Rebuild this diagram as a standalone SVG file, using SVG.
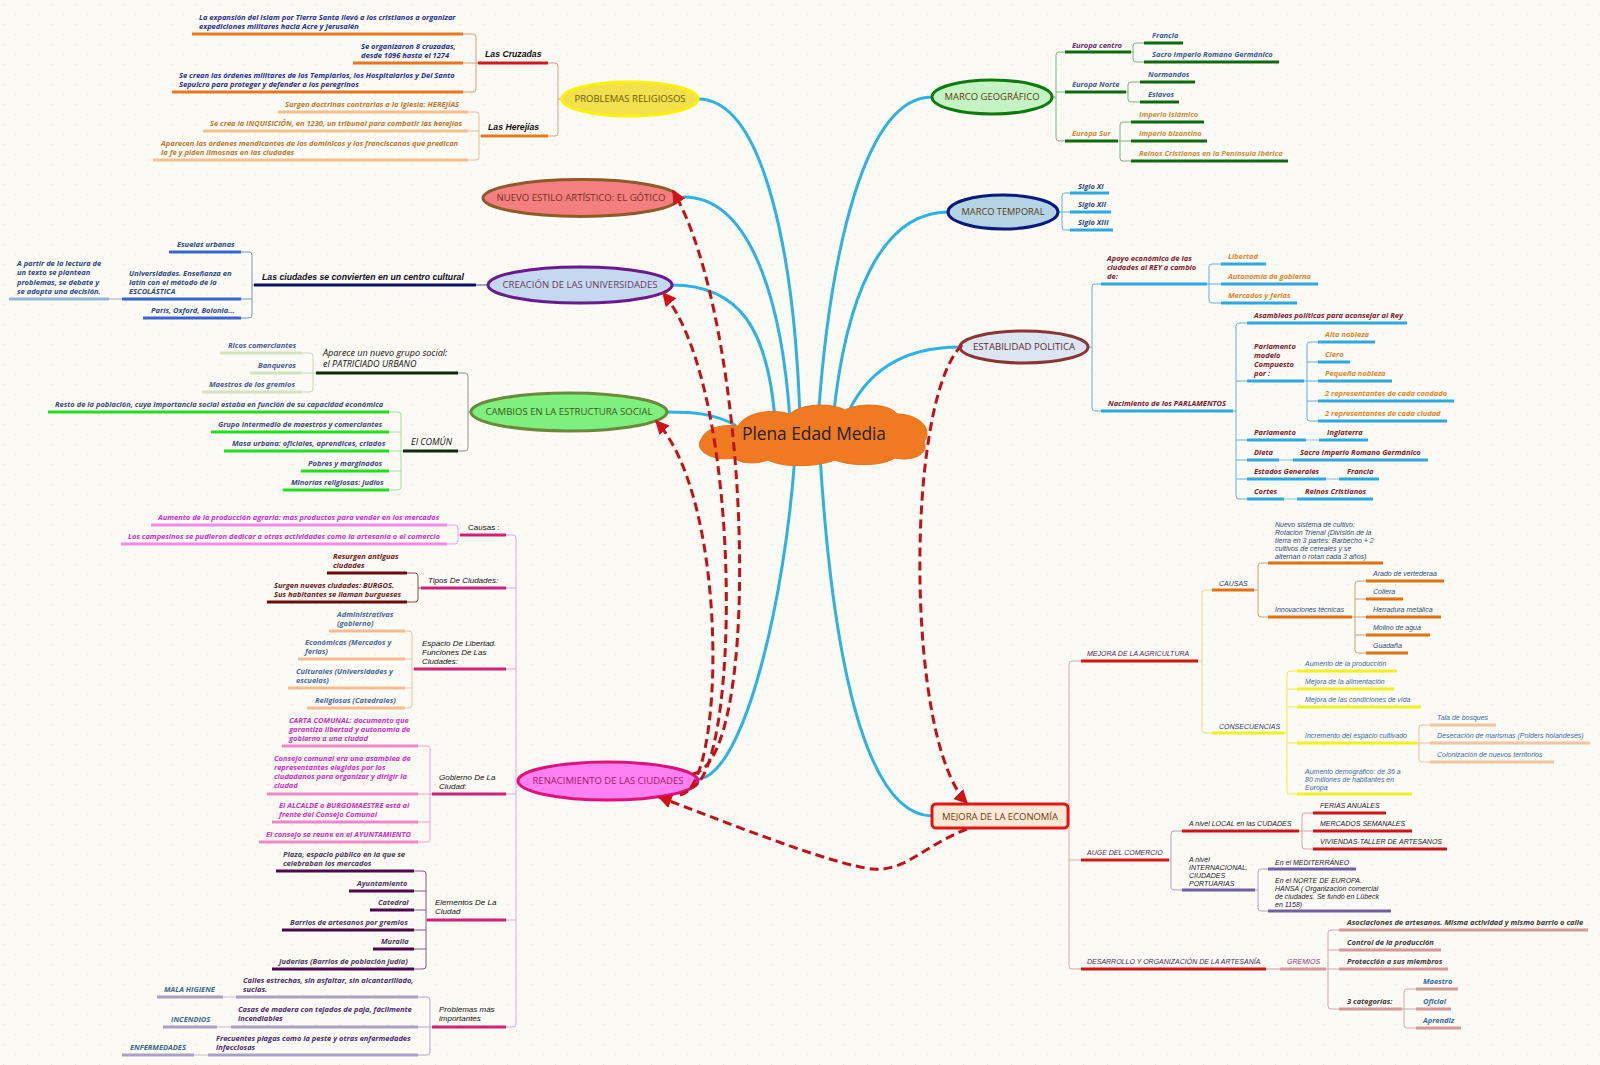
<svg xmlns="http://www.w3.org/2000/svg" width="1600" height="1065" viewBox="0 0 1600 1065">
<defs>
<pattern id="dots" width="24" height="20" patternUnits="userSpaceOnUse">
<rect width="24" height="20" fill="#fbfaf5"/>
<rect x="3" y="4" width="1.2" height="1.2" fill="#e9e5d8"/>
<rect x="15" y="14" width="1.2" height="1.2" fill="#eeeadf"/>
</pattern>
<marker id="ah" viewBox="0 0 10 10" refX="9" refY="5" markerWidth="14" markerHeight="14" markerUnits="userSpaceOnUse" orient="auto">
<path d="M0,0 L10,5 L0,10 z" fill="#d2121a"/>
</marker>
<style>
.blue{fill:none;stroke:#2fb1e1;stroke-width:3;stroke-linecap:round}
.dash{fill:none;stroke:#c0121a;stroke-width:3;stroke-dasharray:9 5}
.br{fill:none;stroke-width:1}
.u{fill:none;stroke-width:3}
.t{font-family:'Open Sans','Noto Sans',sans-serif;font-style:italic;font-weight:700;font-size:7.5px}
.a{font-family:'Liberation Sans',Arial,sans-serif;font-style:italic;font-size:7px}
.h{font-family:'Liberation Sans',Arial,sans-serif;font-style:italic;font-weight:700;font-size:8.7px;fill:#111}
.c{font-family:'Liberation Sans',Arial,sans-serif;font-style:italic;font-size:8px;fill:#111}
.o{font-family:'Open Sans','Noto Sans',sans-serif;font-style:italic;font-size:9px;fill:#111}
.n{font-family:'Open Sans','Noto Sans',sans-serif;font-size:9px;text-anchor:middle}
.c1{fill:#25318e}.c2{fill:#b97a32}.c3{fill:#2b4b82}.c4{fill:#4b5b92}.c5{fill:#3b4b80}
.c6{fill:#c534c5}.c7{fill:#6b1b1b}.c8{fill:#4b6b9b}.c9{fill:#4b3b5b}.c10{fill:#4b2b6b}.c11{fill:#3b6b8b}
.r1{fill:#6b2b6b}.r2{fill:#3b5b9b}.r3{fill:#d48a3a}.r4{fill:#2b4b7b}.r5{fill:#7b1b2b}.r6{fill:#e0862a}
.r7{fill:#4b2b5b}.r8{fill:#2b3b6b}.r9{fill:#3b6ba3}.r10{fill:#1b1b2b}.r11{fill:#8b3b7b}.r12{fill:#3b3b3b}
</style>
</defs>
<rect width="1600" height="1065" fill="url(#dots)"/>

<g id="connectors">
<path class="blue" d="M698 99 C765 99 795 260 800 420"/>
<path class="blue" d="M684 197 C750 197 782 300 790 420"/>
<path class="blue" d="M672 285 C740 285 768 330 775 420"/>
<path class="blue" d="M667 412 C695 412 715 414 735 425"/>
<path class="blue" d="M700 779 C745 770 785 600 795 455"/>
<path class="blue" d="M932 97 C865 97 830 250 818 420"/>
<path class="blue" d="M948 212 C880 212 845 300 833 420"/>
<path class="blue" d="M960 347 C905 347 865 370 845 420"/>
<path class="blue" d="M932 816 C875 815 835 700 820 455"/>

<path class="br" stroke="#d8a070" d="M463,34 H473 Q476,34 476,37 V89 Q476,92 473,92 H463 M463,63 H478"/>
<path class="br" stroke="#e8c090" d="M468,112 H476 Q479,112 479,115 V157 Q479,160 476,160 H468 M468,131 H479 M479,136 H481"/>
<path class="br" stroke="#d0a080" d="M548,63 H555 Q558,63 558,66 V133 Q558,136 555,136 H548 M558,99 H562"/>
<path class="br" stroke="#505080" d="M476,285 H488"/>
<path class="br" stroke="#8090c0" d="M241,252 H249 Q252,252 252,255 V315 Q252,318 249,318 H241 M241,299 H252 M252,285 H254"/>
<path class="br" stroke="#a0a8b8" d="M109,299 H122"/>
<path class="br" stroke="#909090" d="M458,373 H465 Q468,373 468,376 V448 Q468,451 465,451 H458 M468,412 H471"/>
<path class="br" stroke="#c8d8b8" d="M302,353 H310 Q313,353 313,356 V389 Q313,392 310,392 H302 M302,373 H316"/>
<path class="br" stroke="#a0e0a0" d="M389,412 H398 Q401,412 401,415 V487 Q401,490 398,490 H389 M389,432 H401 M389,451 H403 M389,471 H401"/>
<path class="br" stroke="#f0a0d8" d="M506,535 H513 Q516,535 516,538 V1024 Q516,1027 513,1027 H506 M506,588 H516 M506,669 H516 M506,794 H516 M506,920 H516 M516,781 H518"/>
<path class="br" stroke="#f0a0e8" d="M447,525 H455 Q458,525 458,528 V541 Q458,544 455,544 H447 M458,535 H460"/>
<path class="br" stroke="#8a4a4a" d="M407,573 H415 Q418,573 418,576 V599 Q418,602 415,602 H407 M418,588 H421"/>
<path class="br" stroke="#f0c0a0" d="M405,631 H409 Q412,631 412,634 V705 Q412,708 409,708 H405 M405,659 H412 M405,688 H412 M412,669 H414"/>
<path class="br" stroke="#f0a0d0" d="M418,746 H427 Q430,746 430,749 V839 Q430,842 427,842 H418 M418,794 H432 M418,822 H430"/>
<path class="br" stroke="#806080" d="M414,871 H423 Q426,871 426,874 V966 Q426,969 423,969 H414 M414,891 H426 M414,910 H426 M414,930 H426 M414,949 H426 M426,920 H427"/>
<path class="br" stroke="#b0a8c8" d="M418,997 H427 Q430,997 430,1000 V1052 Q430,1055 427,1055 H418 M418,1027 H432"/>
<path class="br" stroke="#c0c0c8" d="M223,997 H236 M217,1027 H231 M194,1055 H208"/>

<path class="br" stroke="#80b080" d="M1065,52 H1059 Q1056,52 1056,55 V138 Q1056,141 1059,141 H1065 M1056,92 H1065 M1052,97 H1056"/>
<path class="br" stroke="#80b080" d="M1144,43 H1136 Q1133,43 1133,46 V59 Q1133,62 1136,62 H1144 M1131,52 H1133"/>
<path class="br" stroke="#80b080" d="M1140,82 H1131 Q1128,82 1128,85 V99 Q1128,102 1131,102 H1140 M1126,92 H1128"/>
<path class="br" stroke="#80b080" d="M1131,122 H1123 Q1120,122 1120,125 V158 Q1120,161 1123,161 H1131 M1118,141 H1131"/>
<path class="br" stroke="#60b0e0" d="M1070,193 H1065 Q1062,193 1062,196 V227 Q1062,230 1065,230 H1070 M1057,212 H1070"/>
<path class="br" stroke="#60b0e0" d="M1101,284 H1095 Q1092,284 1092,287 V408 Q1092,411 1095,411 H1101 M1088,347 H1092"/>
<path class="br" stroke="#60b0e0" d="M1221,264 H1212 Q1209,264 1209,267 V300 Q1209,303 1212,303 H1221 M1207,284 H1221"/>
<path class="br" stroke="#60b0e0" d="M1247,323 H1239 Q1236,323 1236,326 V496 Q1236,499 1239,499 H1247 M1247,381 H1236 M1236,440 H1247 M1236,460 H1247 M1236,479 H1247 M1233,411 H1236"/>
<path class="br" stroke="#60b0e0" d="M1318,342 H1310 Q1307,342 1307,345 V418 Q1307,421 1310,421 H1318 M1304,381 H1318 M1307,362 H1318 M1307,401 H1318"/>
<path class="br" stroke="#80c0e0" d="M1306,440 H1319 M1279,460 H1293 M1326,479 H1339 M1284,499 H1297"/>
<path class="br" stroke="#e0a8a8" d="M1081,661 H1072 Q1069,661 1069,664 V966 Q1069,969 1072,969 H1081 M1069,860 H1081 M1068,816 H1069"/>
<path class="br" stroke="#e8d880" d="M1212,590 H1205 Q1202,590 1202,593 V730 Q1202,733 1205,733 H1212 M1198,661 H1202"/>
<path class="br" stroke="#d0a070" d="M1268,563 H1261 Q1258,563 1258,566 V614 Q1258,617 1261,617 H1268 M1254,590 H1258"/>
<path class="br" stroke="#d0a070" d="M1366,581 H1358 Q1355,581 1355,584 V650 Q1355,653 1358,653 H1366 M1355,599 H1366 M1352,617 H1366 M1355,635 H1366"/>
<path class="br" stroke="#eaea50" d="M1297,671 H1290 Q1287,671 1287,674 V791 Q1287,794 1290,794 H1297 M1287,689 H1297 M1287,707 H1297 M1287,743 H1297 M1284,733 H1287"/>
<path class="br" stroke="#e8c0a0" d="M1430,725 H1422 Q1419,725 1419,728 V759 Q1419,762 1422,762 H1430 M1417,743 H1430"/>
<path class="br" stroke="#b0a0c0" d="M1182,831 H1174 Q1171,831 1171,834 V887 Q1171,890 1174,890 H1182 M1169,860 H1171"/>
<path class="br" stroke="#e0a0a0" d="M1313,813 H1305 Q1302,813 1302,816 V846 Q1302,849 1305,849 H1313 M1299,831 H1313"/>
<path class="br" stroke="#b0a0c8" d="M1268,869 H1261 Q1258,869 1258,872 V908 Q1258,911 1261,911 H1268 M1255,890 H1258"/>
<path class="br" stroke="#c0a0a0" d="M1266,969 H1280"/>
<path class="br" stroke="#d0a8a8" d="M1339,930 H1331 Q1328,930 1328,933 V1006 Q1328,1009 1331,1009 H1339 M1328,950 H1339 M1326,969 H1339"/>
<path class="br" stroke="#d0a8a8" d="M1416,989 H1407 Q1404,989 1404,992 V1025 Q1404,1028 1407,1028 H1416 M1402,1009 H1416"/>
</g>

<!-- LEFT: Problemas religiosos -->
<g id="cruz-1"><path class="u" stroke="#e8781e" d="M192 34 H463"/><text class="t c1"><tspan x="199" y="20">La expansión del Islam por Tierra Santa llevó a los cristianos a organizar</tspan><tspan x="199" y="29">expediciones militares hacia Acre y Jerusalén</tspan></text></g>
<g id="cruz-2"><path class="u" stroke="#e8781e" d="M353 63 H463"/><text class="t c1"><tspan x="361" y="49">Se organizaron 8 cruzadas,</tspan><tspan x="361" y="58">desde 1096 hasta el 1274</tspan></text></g>
<g id="cruz-3"><path class="u" stroke="#e8781e" d="M172 92 H463"/><text class="t c1"><tspan x="179" y="78">Se crean las órdenes militares de los Templarios, los Hospitalarios y Del Santo</tspan><tspan x="179" y="87">Sepulcro para proteger y defender a los peregrinos</tspan></text></g>
<g id="cruzadas"><path class="u" stroke="#d01a1a" d="M478 63 H548"/><text class="h" x="485" y="57">Las Cruzadas</text></g>
<g id="her-1"><path class="u" stroke="#f2c08e" d="M278 112 H468"/><text class="t c2" x="285" y="107">Surgen doctrinas contrarias a la Iglesia: HEREJÍAS</text></g>
<g id="her-2"><path class="u" stroke="#f2c08e" d="M203 131 H468"/><text class="t c2" x="210" y="126">Se crea la INQUISICIÓN, en 1230, un tribunal para combatir las herejías</text></g>
<g id="her-3"><path class="u" stroke="#f2c08e" d="M153 160 H468"/><text class="t c2"><tspan x="161" y="146">Aparecen las órdenes mendicantes de los dominicos y los franciscanos que predican</tspan><tspan x="161" y="155">la fe y piden limosnas en las ciudades</tspan></text></g>
<g id="herejias"><path class="u" stroke="#e87a1e" d="M481 136 H548"/><text class="h" x="488" y="130">Las Herejías</text></g>
<g id="problemas"><ellipse cx="630" cy="99" rx="68" ry="17" fill="#f2e04c" stroke="#fff200" stroke-width="3"/><text class="n" x="630" y="102" fill="#6b5a0b" textLength="111" lengthAdjust="spacingAndGlyphs">PROBLEMAS RELIGIOSOS</text></g>

<g id="gotico"><ellipse cx="581" cy="198" rx="98" ry="18.5" fill="#f47f7f" stroke="#8e5a2a" stroke-width="3"/><text class="n" x="581" y="201" fill="#7a2e1e" textLength="169" lengthAdjust="spacingAndGlyphs">NUEVO ESTILO ARTÍSTICO: EL GÓTICO</text></g>

<!-- Universidades -->
<g id="univ-1"><path class="u" stroke="#3a64d0" d="M169 252 H241"/><text class="t c3" x="177" y="247">Esuelas urbanas</text></g>
<g id="univ-2"><path class="u" stroke="#3a64d0" d="M122 299 H241"/><text class="t c3"><tspan x="129" y="276">Universidades. Enseñanza en</tspan><tspan x="129" y="285">latín con el método de la</tspan><tspan x="129" y="294">ESCOLÁSTICA</tspan></text></g>
<g id="univ-3"><path class="u" stroke="#3a64d0" d="M143 318 H241"/><text class="t c3" x="151" y="313">París, Oxford, Bolonia...</text></g>
<g id="univ-2a"><path class="u" stroke="#98b4d4" d="M9 299 H109"/><text class="t c3"><tspan x="17" y="266">A partir de la lectura de</tspan><tspan x="17" y="275">un texto se plantean</tspan><tspan x="17" y="285">problemas, se debate y</tspan><tspan x="17" y="294">se adopta una decisión.</tspan></text></g>
<g id="centro-cultural"><path class="u" stroke="#0e1060" d="M254 285 H476"/><text class="h" x="262" y="280">Las ciudades se convierten en un centro cultural</text></g>
<g id="universidades"><ellipse cx="580" cy="285" rx="92" ry="18" fill="#c6d8f0" stroke="#6a1a8a" stroke-width="3"/><text class="n" x="580" y="288" fill="#6b3b5b" textLength="155" lengthAdjust="spacingAndGlyphs">CREACIÓN DE LAS UNIVERSIDADES</text></g>

<!-- Cambios estructura social -->
<g id="pat-1"><path class="u" stroke="#d4e2c0" d="M220 353 H302"/><text class="t c4" x="228" y="348">Ricos comerciantes</text></g>
<g id="pat-2"><path class="u" stroke="#d4e2c0" d="M250 373 H302"/><text class="t c4" x="258" y="368">Banqueros</text></g>
<g id="pat-3"><path class="u" stroke="#d4e2c0" d="M202 392 H302"/><text class="t c4" x="209" y="387">Maestros de los gremios</text></g>
<g id="patriciado"><path class="u" stroke="#0a2a0a" d="M316 373 H458"/><text class="o"><tspan x="323" y="356">Aparece un nuevo grupo social:</tspan><tspan x="323" y="367">el PATRICIADO URBANO</tspan></text></g>
<g id="com-1"><path class="u" stroke="#1ee01e" d="M48 412 H389"/><text class="t c5" x="55" y="407">Resto de la población, cuya importancia social estaba en función de su capacidad económica</text></g>
<g id="com-2"><path class="u" stroke="#1ee01e" d="M211 432 H389"/><text class="t c5" x="218" y="427">Grupo intermedio de maestros y comerciantes</text></g>
<g id="com-3"><path class="u" stroke="#1ee01e" d="M224 451 H389"/><text class="t c5" x="232" y="446">Masa urbana: oficiales, aprendices, criados</text></g>
<g id="com-4"><path class="u" stroke="#1ee01e" d="M301 471 H389"/><text class="t c5" x="308" y="466">Pobres y marginados</text></g>
<g id="com-5"><path class="u" stroke="#1ee01e" d="M283 490 H389"/><text class="t c5" x="291" y="485">Minorías religiosas: judíos</text></g>
<g id="comun"><path class="u" stroke="#0a2a0a" d="M403 451 H458"/><text class="o" x="411" y="445">El COMÚN</text></g>
<g id="cambios"><ellipse cx="569" cy="412" rx="98" ry="19" fill="#7ff07f" stroke="#6a8a3a" stroke-width="3"/><text class="n" x="569" y="415" fill="#3b5b1b" textLength="167" lengthAdjust="spacingAndGlyphs">CAMBIOS EN LA ESTRUCTURA SOCIAL</text></g>

<!-- Renacimiento de las ciudades -->
<g id="causa-1"><path class="u" stroke="#f08ce8" d="M151 525 H447"/><text class="t c6" x="158" y="520">Aumento de la producción agraria: más productos para vender en los mercados</text></g>
<g id="causa-2"><path class="u" stroke="#f08ce8" d="M121 544 H447"/><text class="t c6" x="128" y="539">Los campesinos se pudieron dedicar a otras actividades como la artesanía o el comercio</text></g>
<g id="causas"><path class="u" stroke="#d0207a" d="M460 535 H506"/><text class="c" x="468" y="530" style="font-style:normal">Causas :</text></g>
<g id="tipo-1"><path class="u" stroke="#6a0a0a" d="M327 573 H407"/><text class="t c7"><tspan x="333" y="559">Resurgen antiguas</tspan><tspan x="333" y="568">ciudades</tspan></text></g>
<g id="tipo-2"><path class="u" stroke="#6a0a0a" d="M267 602 H407"/><text class="t c7"><tspan x="274" y="588">Surgen nuevas ciudades: BURGOS.</tspan><tspan x="274" y="597">Sus habitantes se llaman burgueses</tspan></text></g>
<g id="tipos"><path class="u" stroke="#d0207a" d="M421 588 H506"/><text class="c" x="428" y="583">Tipos De Ciudades:</text></g>
<g id="esp-1"><path class="u" stroke="#f4bc94" d="M329 631 H405"/><text class="t c8"><tspan x="337" y="617">Administrativas</tspan><tspan x="337" y="626">(gobierno)</tspan></text></g>
<g id="esp-2"><path class="u" stroke="#f4bc94" d="M298 659 H405"/><text class="t c8"><tspan x="305" y="645">Económicas (Mercados y</tspan><tspan x="305" y="654">ferias)</tspan></text></g>
<g id="esp-3"><path class="u" stroke="#f4bc94" d="M288 688 H405"/><text class="t c8"><tspan x="296" y="674">Culturales (Universidades y</tspan><tspan x="296" y="683">escuelas)</tspan></text></g>
<g id="esp-4"><path class="u" stroke="#f4bc94" d="M307 708 H405"/><text class="t c8" x="315" y="703">Religiosas (Catedrales)</text></g>
<g id="espacio"><path class="u" stroke="#d0207a" d="M414 669 H506"/><text class="c"><tspan x="422" y="646">Espacio De Libertad.</tspan><tspan x="422" y="655">Funciones De Las</tspan><tspan x="422" y="664">Ciudades:</tspan></text></g>
<g id="gob-1"><path class="u" stroke="#f088c8" d="M282 746 H418"/><text class="t c6"><tspan x="289" y="723">CARTA COMUNAL: documento que</tspan><tspan x="289" y="732">garantiza libertad y autonomía de</tspan><tspan x="289" y="741">gobierno a una ciudad</tspan></text></g>
<g id="gob-2"><path class="u" stroke="#f088c8" d="M267 794 H418"/><text class="t c6"><tspan x="274" y="761">Consejo comunal era una asamblea de</tspan><tspan x="274" y="770">representantes elegidos por los</tspan><tspan x="274" y="779">ciudadanos para organizar y dirigir la</tspan><tspan x="274" y="788">ciudad</tspan></text></g>
<g id="gob-3"><path class="u" stroke="#f088c8" d="M272 822 H418"/><text class="t c6"><tspan x="279" y="808">El ALCALDE o BURGOMAESTRE está al</tspan><tspan x="279" y="817">frente del Consejo Comunal</tspan></text></g>
<g id="gob-4"><path class="u" stroke="#f088c8" d="M259 842 H418"/><text class="t c6" x="266" y="837">El consejo se reune en el AYUNTAMIENTO</text></g>
<g id="gobierno"><path class="u" stroke="#d0207a" d="M432 794 H506"/><text class="c"><tspan x="439" y="780">Gobierno De La</tspan><tspan x="439" y="789">Ciudad:</tspan></text></g>
<g id="ele-1"><path class="u" stroke="#4a0a4a" d="M276 871 H414"/><text class="t c9"><tspan x="283" y="857">Plaza, espacio público en la que se</tspan><tspan x="283" y="866">celebraban los mercados</tspan></text></g>
<g id="ele-2"><path class="u" stroke="#4a0a4a" d="M349 891 H414"/><text class="t c9" x="357" y="886">Ayuntamiento</text></g>
<g id="ele-3"><path class="u" stroke="#4a0a4a" d="M370 910 H414"/><text class="t c9" x="378" y="905">Catedral</text></g>
<g id="ele-4"><path class="u" stroke="#4a0a4a" d="M282 930 H414"/><text class="t c9" x="290" y="925">Barrios de artesanos por gremios</text></g>
<g id="ele-5"><path class="u" stroke="#4a0a4a" d="M373 949 H414"/><text class="t c9" x="381" y="944">Muralla</text></g>
<g id="ele-6"><path class="u" stroke="#4a0a4a" d="M272 969 H414"/><text class="t c9" x="279" y="964">Juderías (Barrios de población judía)</text></g>
<g id="elementos"><path class="u" stroke="#d0207a" d="M427 920 H506"/><text class="c"><tspan x="435" y="905">Elementos De La</tspan><tspan x="435" y="914">Ciudad</tspan></text></g>
<g id="prob-1"><path class="u" stroke="#aaa2c4" d="M236 997 H418"/><text class="t c10"><tspan x="243" y="983">Calles estrechas, sin asfaltar, sin alcantarillado,</tspan><tspan x="243" y="992">sucias.</tspan></text></g>
<g id="prob-1a"><path class="u" stroke="#aaa2c4" d="M157 997 H223"/><text class="t c11" x="164" y="992">MALA HIGIENE</text></g>
<g id="prob-2"><path class="u" stroke="#aaa2c4" d="M231 1027 H418"/><text class="t c10"><tspan x="238" y="1012">Casas de madera con tejados de paja, fácilmente</tspan><tspan x="238" y="1021">incendiables</tspan></text></g>
<g id="prob-2a"><path class="u" stroke="#aaa2c4" d="M163 1027 H217"/><text class="t c11" x="171" y="1022">INCENDIOS</text></g>
<g id="prob-3"><path class="u" stroke="#aaa2c4" d="M208 1055 H418"/><text class="t c10"><tspan x="216" y="1041">Frecuentes plagas como la peste y otras enfermedades</tspan><tspan x="216" y="1050">infecciosas</tspan></text></g>
<g id="prob-3a"><path class="u" stroke="#aaa2c4" d="M122 1055 H194"/><text class="t c11" x="130" y="1050">ENFERMEDADES</text></g>
<g id="problemas-ciudad"><path class="u" stroke="#d0207a" d="M432 1027 H506"/><text class="c"><tspan x="439" y="1012">Problemas más</tspan><tspan x="439" y="1021">importantes</tspan></text></g>
<g id="renacimiento"><ellipse cx="608" cy="781" rx="90" ry="19" fill="#ff80f0" stroke="#e0107a" stroke-width="3"/><text class="n" x="608" y="784" fill="#a01a6a" textLength="151" lengthAdjust="spacingAndGlyphs">RENACIMIENTO DE LAS CIUDADES</text></g>

<!-- RIGHT: Marco geografico -->
<g id="geo-centro"><path class="u" stroke="#0e6a0e" d="M1065 52 H1131"/><text class="t r1" x="1072" y="48">Europa  centro</text></g>
<g id="geo-francia"><path class="u" stroke="#0e6a0e" d="M1144 43 H1183"/><text class="t r2" x="1152" y="38">Francia</text></g>
<g id="geo-sacro"><path class="u" stroke="#0e6a0e" d="M1144 62 H1279"/><text class="t r2" x="1152" y="57">Sacro Imperio Romano Germánico</text></g>
<g id="geo-norte"><path class="u" stroke="#0e6a0e" d="M1065 92 H1126"/><text class="t r2" x="1072" y="87">Europa Norte</text></g>
<g id="geo-normandos"><path class="u" stroke="#0e6a0e" d="M1140 82 H1195"/><text class="t r2" x="1148" y="77">Normandos</text></g>
<g id="geo-eslavos"><path class="u" stroke="#0e6a0e" d="M1140 102 H1179"/><text class="t r2" x="1148" y="97">Eslavos</text></g>
<g id="geo-sur"><path class="u" stroke="#0e6a0e" d="M1065 141 H1118"/><text class="t r3" x="1072" y="136">Europa Sur</text></g>
<g id="geo-islamico"><path class="u" stroke="#0e6a0e" d="M1131 122 H1204"/><text class="t r3" x="1139" y="117">Imperio Islámico</text></g>
<g id="geo-bizantino"><path class="u" stroke="#0e6a0e" d="M1131 141 H1207"/><text class="t r3" x="1139" y="136">imperio bizantino</text></g>
<g id="geo-reinos"><path class="u" stroke="#0e6a0e" d="M1131 161 H1288"/><text class="t r3" x="1139" y="156">Reinos Cristianos en la Península Ibérica</text></g>
<g id="marco-geografico"><ellipse cx="992" cy="97" rx="60" ry="17" fill="#c4f4c4" stroke="#0e7a0e" stroke-width="3"/><text class="n" x="992" y="100" fill="#5b3b0b" textLength="95" lengthAdjust="spacingAndGlyphs">MARCO GEOGRÁFICO</text></g>

<g id="siglo-11"><path class="u" stroke="#2ea8e0" d="M1070 193 H1109"/><text class="t r4" x="1078" y="189">Siglo XI</text></g>
<g id="siglo-12"><path class="u" stroke="#2ea8e0" d="M1070 212 H1111"/><text class="t r4" x="1078" y="207">Siglo XII</text></g>
<g id="siglo-13"><path class="u" stroke="#2ea8e0" d="M1070 230 H1113"/><text class="t r4" x="1078" y="225">Siglo XIII</text></g>
<g id="marco-temporal"><ellipse cx="1003" cy="212" rx="55" ry="17" fill="#b4d4e4" stroke="#0a1a7a" stroke-width="3"/><text class="n" x="1003" y="215" fill="#5b3b0b" textLength="83" lengthAdjust="spacingAndGlyphs">MARCO TEMPORAL</text></g>

<!-- Estabilidad politica -->
<g id="apoyo"><path class="u" stroke="#2ea8e0" d="M1101 284 H1207"/><text class="t r5"><tspan x="1107" y="261">Apoyo económico de las</tspan><tspan x="1107" y="270">ciudades al REY  a cambio</tspan><tspan x="1107" y="279">de:</tspan></text></g>
<g id="libertad"><path class="u" stroke="#2ea8e0" d="M1221 264 H1266"/><text class="t r6" x="1228" y="259">Libertad</text></g>
<g id="autonomia"><path class="u" stroke="#2ea8e0" d="M1221 284 H1318"/><text class="t r6" x="1228" y="279">Autonomía de gobierno</text></g>
<g id="mercados"><path class="u" stroke="#2ea8e0" d="M1221 303 H1297"/><text class="t r6" x="1228" y="298">Mercados y ferias</text></g>
<g id="nacimiento"><path class="u" stroke="#2ea8e0" d="M1101 411 H1233"/><text class="t r5" x="1108" y="406">Nacimiento de los PARLAMENTOS</text></g>
<g id="asambleas"><path class="u" stroke="#2ea8e0" d="M1247 323 H1407"/><text class="t r5" x="1254" y="318">Asambleas políticas para aconsejar al Rey</text></g>
<g id="parl-modelo"><path class="u" stroke="#2ea8e0" d="M1247 381 H1304"/><text class="t r5"><tspan x="1254" y="349">Parlamento</tspan><tspan x="1254" y="358">modelo</tspan><tspan x="1254" y="367">Compuesto</tspan><tspan x="1254" y="376">por :</tspan></text></g>
<g id="alta"><path class="u" stroke="#2ea8e0" d="M1318 342 H1375"/><text class="t r6" x="1325" y="337">Alta nobleza</text></g>
<g id="clero"><path class="u" stroke="#2ea8e0" d="M1318 362 H1350"/><text class="t r6" x="1325" y="357">Clero</text></g>
<g id="pequena"><path class="u" stroke="#2ea8e0" d="M1318 381 H1392"/><text class="t r6" x="1325" y="376">Pequeña nobleza</text></g>
<g id="condado"><path class="u" stroke="#2ea8e0" d="M1318 401 H1454"/><text class="t r6" x="1325" y="396">2 representantes de cada condado</text></g>
<g id="ciudad"><path class="u" stroke="#2ea8e0" d="M1318 421 H1447"/><text class="t r6" x="1325" y="416">2 representantes de cada ciudad</text></g>
<g id="parlamento"><path class="u" stroke="#2ea8e0" d="M1247 440 H1306"/><text class="t r5" x="1254" y="435">Parlamento</text></g>
<g id="inglaterra"><path class="u" stroke="#2ea8e0" d="M1319 440 H1368"/><text class="t r5" x="1327" y="435">Inglaterra</text></g>
<g id="dieta"><path class="u" stroke="#2ea8e0" d="M1247 460 H1279"/><text class="t r5" x="1254" y="455">Dieta</text></g>
<g id="dieta-sacro"><path class="u" stroke="#2ea8e0" d="M1293 460 H1428"/><text class="t r5" x="1300" y="455">Sacro Imperio Romano Germánico</text></g>
<g id="estados"><path class="u" stroke="#2ea8e0" d="M1247 479 H1326"/><text class="t r5" x="1254" y="474">Estados Generales</text></g>
<g id="estados-francia"><path class="u" stroke="#2ea8e0" d="M1339 479 H1379"/><text class="t r5" x="1347" y="474">Francia</text></g>
<g id="cortes"><path class="u" stroke="#2ea8e0" d="M1247 499 H1284"/><text class="t r5" x="1254" y="494">Cortes</text></g>
<g id="cortes-reinos"><path class="u" stroke="#2ea8e0" d="M1297 499 H1373"/><text class="t r5" x="1305" y="494">Reinos Cristianos</text></g>
<g id="estabilidad"><ellipse cx="1024" cy="347" rx="64" ry="16" fill="#dce6f2" stroke="#8a3434" stroke-width="3"/><text class="n" x="1024" y="350" fill="#5b2b2b" textLength="102" lengthAdjust="spacingAndGlyphs">ESTABILIDAD POLITICA</text></g>

<!-- Mejora de la economia -->
<g id="agricultura"><path class="u" stroke="#d01414" d="M1081 661 H1198"/><text class="a r7" x="1087" y="656">MEJORA  DE LA AGRICULTURA</text></g>
<g id="ag-causas"><path class="u" stroke="#e07010" d="M1212 590 H1254"/><text class="a r8" x="1219" y="586">CAUSAS</text></g>
<g id="rotacion"><path class="u" stroke="#e07010" d="M1268 563 H1383"/><text class="a r4"><tspan x="1275" y="527">Nuevo sistema de cultivo:</tspan><tspan x="1275" y="535">Rotación Trienal (División de la</tspan><tspan x="1275" y="543">tierra en 3 partes: Barbecho + 2</tspan><tspan x="1275" y="551">cultivos de cereales y se</tspan><tspan x="1275" y="559">alternan o rotan  cada 3 años)</tspan></text></g>
<g id="innovaciones"><path class="u" stroke="#e07010" d="M1268 617 H1352"/><text class="a r4" x="1275" y="612">Innovaciones técnicas</text></g>
<g id="arado"><path class="u" stroke="#e07010" d="M1366 581 H1444"/><text class="a r4" x="1373" y="576">Arado de vertederaa</text></g>
<g id="collera"><path class="u" stroke="#e07010" d="M1366 599 H1403"/><text class="a r4" x="1373" y="594">Collera</text></g>
<g id="herradura"><path class="u" stroke="#e07010" d="M1366 617 H1441"/><text class="a r4" x="1373" y="612">Herradura metálica</text></g>
<g id="molino"><path class="u" stroke="#e07010" d="M1366 635 H1430"/><text class="a r4" x="1373" y="630">Molino de agua</text></g>
<g id="guadana"><path class="u" stroke="#e07010" d="M1366 653 H1408"/><text class="a r4" x="1373" y="648">Guadaña</text></g>
<g id="consecuencias"><path class="u" stroke="#f2f020" d="M1212 733 H1284"/><text class="a r8" x="1219" y="729">CONSECUENCIAS</text></g>
<g id="cons-1"><path class="u" stroke="#f2f020" d="M1297 671 H1397"/><text class="a r9" x="1305" y="666">Aumento de la producción</text></g>
<g id="cons-2"><path class="u" stroke="#f2f020" d="M1297 689 H1394"/><text class="a r9" x="1305" y="684">Mejora de la alimentación</text></g>
<g id="cons-3"><path class="u" stroke="#f2f020" d="M1297 707 H1421"/><text class="a r9" x="1305" y="702">Mejora de las condiciones de vida</text></g>
<g id="cons-4"><path class="u" stroke="#f2f020" d="M1297 743 H1417"/><text class="a r9" x="1305" y="738">Incremento del espacio cultivado</text></g>
<g id="tala"><path class="u" stroke="#f2c4a0" d="M1430 725 H1496"/><text class="a r9" x="1437" y="720">Tala de bosques</text></g>
<g id="desecacion"><path class="u" stroke="#f2c4a0" d="M1430 743 H1590"/><text class="a r9" x="1437" y="738">Desecación de marismas (Polders holandeses)</text></g>
<g id="colonizacion"><path class="u" stroke="#f2c4a0" d="M1430 762 H1554"/><text class="a r9" x="1437" y="757">Colonización de nuevos territorios</text></g>
<g id="cons-5"><path class="u" stroke="#f2f020" d="M1297 794 H1412"/><text class="a r9"><tspan x="1305" y="774">Aumento demográfico: de 36 a</tspan><tspan x="1305" y="782">80 millones de habitantes en</tspan><tspan x="1305" y="790">Europa</tspan></text></g>
<g id="comercio"><path class="u" stroke="#d01414" d="M1081 860 H1169"/><text class="a r7" x="1087" y="855">AUGE DEL COMERCIO</text></g>
<g id="local"><path class="u" stroke="#d01414" d="M1182 831 H1299"/><text class="a r10" x="1189" y="826">A nivel LOCAL en las CUDADES</text></g>
<g id="ferias"><path class="u" stroke="#d01414" d="M1313 813 H1386"/><text class="a r10" x="1320" y="808">FERIAS ANUALES</text></g>
<g id="semanales"><path class="u" stroke="#d01414" d="M1313 831 H1412"/><text class="a r10" x="1320" y="826">MERCADOS SEMANALES</text></g>
<g id="viviendas"><path class="u" stroke="#d01414" d="M1313 849 H1447"/><text class="a r10" x="1320" y="844">VIVIENDAS-TALLER DE ARTESANOS</text></g>
<g id="internacional"><path class="u" stroke="#7060a0" d="M1182 890 H1255"/><text class="a r10"><tspan x="1189" y="862">A nivel</tspan><tspan x="1189" y="870">INTERNACIONAL.</tspan><tspan x="1189" y="878">CIUDADES</tspan><tspan x="1189" y="886">PORTUARIAS</tspan></text></g>
<g id="mediterraneo"><path class="u" stroke="#7060a0" d="M1268 869 H1356"/><text class="a r10" x="1275" y="865">En el MEDITERRÁNEO</text></g>
<g id="hansa"><path class="u" stroke="#7060a0" d="M1268 911 H1391"/><text class="a r10"><tspan x="1275" y="883">En el NORTE DE EUROPA.</tspan><tspan x="1275" y="891">HANSA ( Organización comercial</tspan><tspan x="1275" y="899">de ciudades. Se fundó en Lübeck</tspan><tspan x="1275" y="907">en 1158)</tspan></text></g>
<g id="artesania"><path class="u" stroke="#d01414" d="M1081 969 H1266"/><text class="a r7" x="1087" y="964">DESARROLLO Y ORGANIZACIÓN DE LA ARTESANÍA</text></g>
<g id="gremios"><path class="u" stroke="#d49a9a" d="M1280 969 H1326"/><text class="a r11" x="1287" y="964">GREMIOS</text></g>
<g id="grem-1"><path class="u" stroke="#d49a9a" d="M1339 930 H1588"/><text class="t r12" x="1347" y="925">Asociaciones de artesanos. Misma actividad y mismo barrio o calle</text></g>
<g id="grem-2"><path class="u" stroke="#d49a9a" d="M1339 950 H1441"/><text class="t r12" x="1347" y="945">Control de la producción</text></g>
<g id="grem-3"><path class="u" stroke="#d49a9a" d="M1339 969 H1448"/><text class="t r12" x="1347" y="964">Protección a sus miembros</text></g>
<g id="grem-4"><path class="u" stroke="#d49a9a" d="M1339 1009 H1402"/><text class="t r12" x="1347" y="1004">3 categorías:</text></g>
<g id="maestro"><path class="u" stroke="#d49a9a" d="M1416 989 H1458"/><text class="t r9" x="1423" y="984">Maestro</text></g>
<g id="oficial"><path class="u" stroke="#d49a9a" d="M1416 1009 H1451"/><text class="t r9" x="1423" y="1004">Oficial</text></g>
<g id="aprendiz"><path class="u" stroke="#d49a9a" d="M1416 1028 H1461"/><text class="t r9" x="1423" y="1023">Aprendiz</text></g>
<g id="economia"><rect x="932" y="804" width="136" height="24" rx="4" fill="#fde8d6" stroke="#e01414" stroke-width="3"/><text class="n" x="1000" y="819.5" fill="#6b3b0b" textLength="116" lengthAdjust="spacingAndGlyphs">MEJORA DE LA ECONOMÍA</text></g>

<!-- Central -->
<g id="central"><path d="M735 458 C712 462 692 450 702 438 C706 428 722 424 738 426 C745 413 770 408 790 414 C800 404 830 402 845 410 C860 402 890 404 897 414 C918 414 934 428 924 442 C930 454 912 462 895 458 C880 467 850 466 835 460 C815 468 780 467 768 460 C755 465 738 463 735 458 Z" fill="#f07a22" stroke="#e87018" stroke-width="1"/><text x="814" y="440" font-family="'Open Sans','Noto Sans',sans-serif" font-size="17.5" fill="#222" text-anchor="middle" textLength="144" lengthAdjust="spacingAndGlyphs">Plena Edad Media</text></g>

<g id="relations">
<path class="dash" marker-end="url(#ah)" d="M693 774 C765 760 750 320 673 191"/>
<path class="dash" marker-end="url(#ah)" d="M690 788 C740 780 745 390 663 293"/>
<path class="dash" marker-end="url(#ah)" d="M680 795 C725 790 730 500 656 421"/>
<path class="dash" marker-end="url(#ah)" d="M962 345 C905 400 905 740 967 803"/>
<path class="dash" marker-end="url(#ah)" d="M967 829 C925 845 905 872 873 869 C835 866 720 820 659 797"/>
</g>
</svg>
